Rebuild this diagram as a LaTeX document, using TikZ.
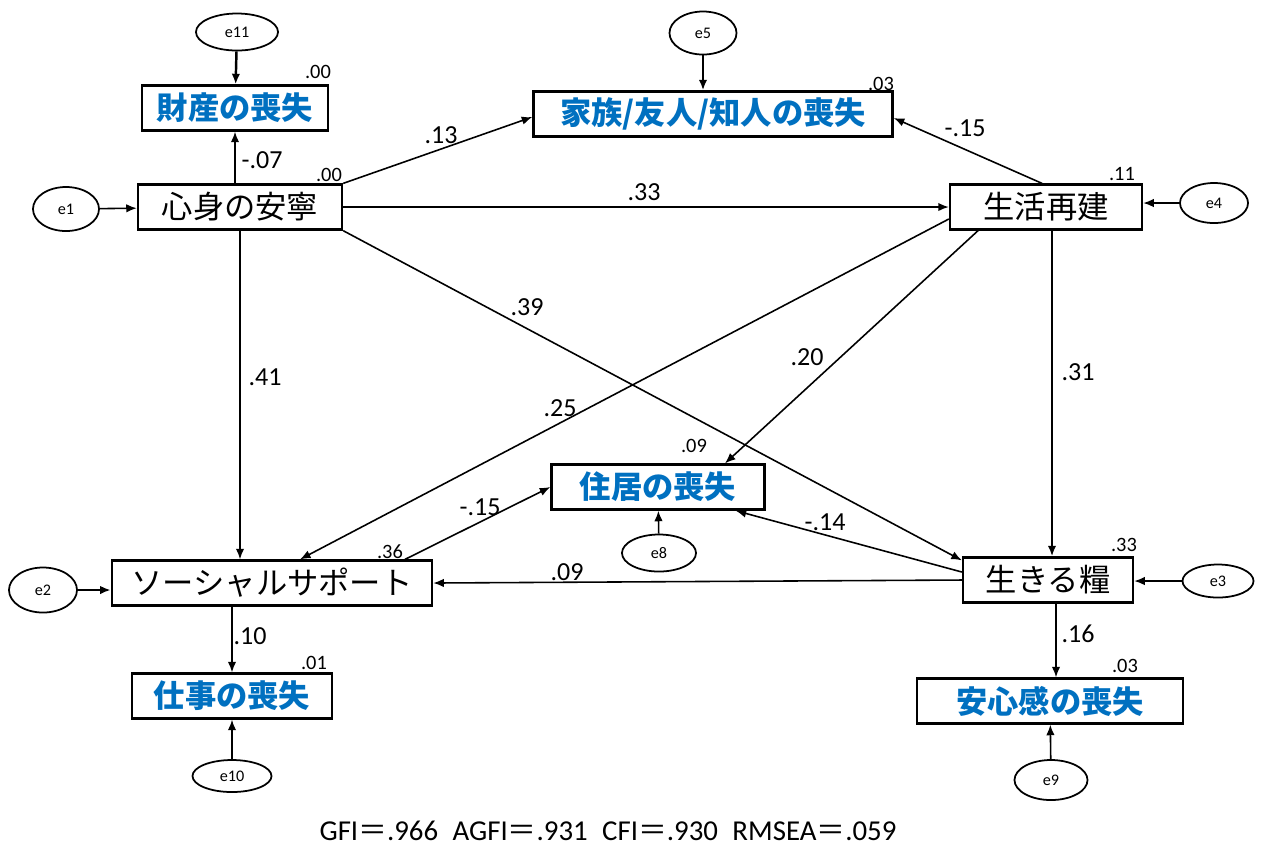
\documentclass[tikz,border=0pt]{standalone}
\usepackage{fontspec}
\setmainfont{Carlito}
\newfontfamily\jp{Noto Sans CJK JP}
\usetikzlibrary{shapes.geometric,calc,arrows.meta}

\definecolor{lossblue}{RGB}{0,112,192}

\begin{document}
\begin{tikzpicture} [x=0.01cm, y=-0.01cm,
				var/.style={
				% The shape:
				rectangle,
				% The size:
      				minimum height=0.45cm, inner sep=0pt,
				% The border:
      				line width=0.65pt, draw=black,
				% Font
				font=\jp\fontsize{8.9pt}{10pt}\selectfont
    				},
				loss/.style={
				var,
				% Font
				text=lossblue,
				font=\jp\bfseries\fontsize{8.9pt}{10pt}\selectfont
    				},
				err/.style={
				% The shape:
				ellipse,
				% The size:
      				inner sep=0pt,
				% The border:
      				line width=0.5pt, draw=black,
				% Font
				font=\fontsize{4.6pt}{5pt}\selectfont
    				},
				coef/.style={font=\fontsize{7.4pt}{8pt}\selectfont, inner sep=0pt},
				rsq/.style={font=\fontsize{5.8pt}{6pt}\selectfont, inner sep=0pt},
				path/.style={line width=0.45pt, -{Latex[length=3pt,width=2.4pt]}},
				heavy/.style={line width=0.7pt},
				]
    \useasboundingbox (0,0) rectangle (1261,847);

    % observed variables
    \node [loss, minimum width=1.86cm] (property) at (235,108) {財産の喪失};
    \node [var,  minimum width=2.04cm] (mind)     at (240,207) {心身の安寧};
    \node [loss, minimum width=3.59cm] (family)   at (713,114) {家族/友人/知人の喪失};
    \node [var,  minimum width=1.92cm] (life)     at (1046,207) {生活再建};
    \node [loss, minimum width=2.13cm] (house)    at (658,487) {住居の喪失};
    \node [var,  minimum width=3.20cm] (support)  at (272,583) {ソーシャルサポート};
    \node [var,  minimum width=1.70cm] (food)     at (1048,580) {生きる糧};
    \node [loss, minimum width=2.00cm] (work)     at (232,696) {仕事の喪失};
    \node [loss, minimum width=2.66cm] (safety)   at (1050,701) {安心感の喪失};

    % error terms
    \node [err, minimum width=0.82cm, minimum height=0.37cm] (e11) at (237,32) {e11};
    \node [err, minimum width=0.66cm, minimum height=0.44cm] (e1)  at (66,209) {e1};
    \node [err, minimum width=0.67cm, minimum height=0.43cm] (e5)  at (703,33) {e5};
    \node [err, minimum width=0.68cm, minimum height=0.40cm] (e4)  at (1214,203) {e4};
    \node [err, minimum width=0.74cm, minimum height=0.37cm] (e8)  at (659,553) {e8};
    \node [err, minimum width=0.68cm, minimum height=0.45cm] (e2)  at (43,590) {e2};
    \node [err, minimum width=0.71cm, minimum height=0.33cm] (e3)  at (1218,581) {e3};
    \node [err, minimum width=0.79cm, minimum height=0.32cm] (e10) at (232,776) {e10};
    \node [err, minimum width=0.73cm, minimum height=0.40cm] (e9)  at (1051,780) {e9};

    % squared multiple correlations
    \node [rsq] (r-property) at (318,72)  {.00};
    \node [rsq] (r-mind)     at (329,175) {.00};
    \node [rsq] (r-family)   at (881,84)  {.03};
    \node [rsq] (r-life)     at (1122,174) {.11};
    \node [rsq] (r-house)    at (694,446) {.09};
    \node [rsq] (r-support)  at (390,552) {.36};
    \node [rsq] (r-food)     at (1124,545) {.33};
    \node [rsq] (r-work)     at (314,663) {.01};
    \node [rsq] (r-safety)   at (1125,666) {.03};

    % error paths
    \draw [path, heavy] (e11) -- (property);
    \draw [path] (e1) -- (mind);
    \draw [path, heavy] (e5.south) -- (e5.south |- family.north);
    \draw [path] (e4.west) -- (e4.west -| life.east);
    \draw [path] (e8) -- (house);
    \draw [path, heavy] (e2.east) -- (e2.east -| support.west);
    \draw [path] (e3.west) -- (e3.west -| food.east);
    \draw [path] (e10) -- (work);
    \draw [path] (e9) -- (safety);

    % structural paths
    \draw [path] (property.south |- mind.north) -- (property.south);
    \draw [path] (mind.north east) -- ($(family.west)+(0,3)$);
    \draw [path] (mind.east) -- (life.west);
    \draw [path] (mind.south east) -- ($(food.north west)+(0,4)$);
    \draw [path] (mind.south) -- (mind.south |- support.north);
    \draw [path] ($(life.north)+(-4,0)$) -- ($(family.east)+(0,4)$);
    \draw [path] ($(life.west)+(0,12)$) -- ($(support.north)+(28,0)$);
    \draw [path] ($(life.south)+(-68,0)$) -- ($(house.north)+(67,0)$);
    \draw [path, heavy] ($(life.south)+(6,0)$) -- ($(life.south |- food.north)+(6,0)$);
    \draw [path] ($(support.north)+(133,0)$) -- (house.west);
    \draw [path] ($(food.west)+(0,-8)$) -- ($(house.south east)+(-30,0)$);
    \draw [path] (food.west) -- (support.east);
    \draw [path] (work.north |- support.south) -- (work.north);
    \draw [path] ($(food.south)+(8,0)$) -- ($(food.south |- safety.north)+(8,0)$);

    % path coefficients
    \node [coef] (c-mind-property)  at (262,160) {-.07};
    \node [coef] (c-mind-family)    at (441,135) {.13};
    \node [coef] (c-mind-life)      at (644,192) {.33};
    \node [coef] (c-mind-food)      at (527,307) {.39};
    \node [coef] (c-mind-support)   at (265,377) {.41};
    \node [coef] (c-life-family)    at (965,128) {-.15};
    \node [coef] (c-life-support)   at (560,408) {.25};
    \node [coef] (c-life-house)     at (807,357) {.20};
    \node [coef] (c-life-food)      at (1078,372) {.31};
    \node [coef] (c-support-house)  at (480,507) {-.15};
    \node [coef] (c-food-house)     at (825,522) {-.14};
    \node [coef] (c-food-support)   at (567,572) {.09};
    \node [coef] (c-support-work)   at (250,636) {.10};
    \node [coef] (c-food-safety)    at (1078,634) {.16};

    % fit indices
    \node [coef, font=\fontsize{8.2pt}{9pt}\selectfont] (fit) at (608,831)
        {GFI{\jp ＝}.966\enspace AGFI{\jp ＝}.931\enspace CFI{\jp ＝}.930\enspace RMSEA{\jp ＝}.059};
\end{tikzpicture}
\end{document}
